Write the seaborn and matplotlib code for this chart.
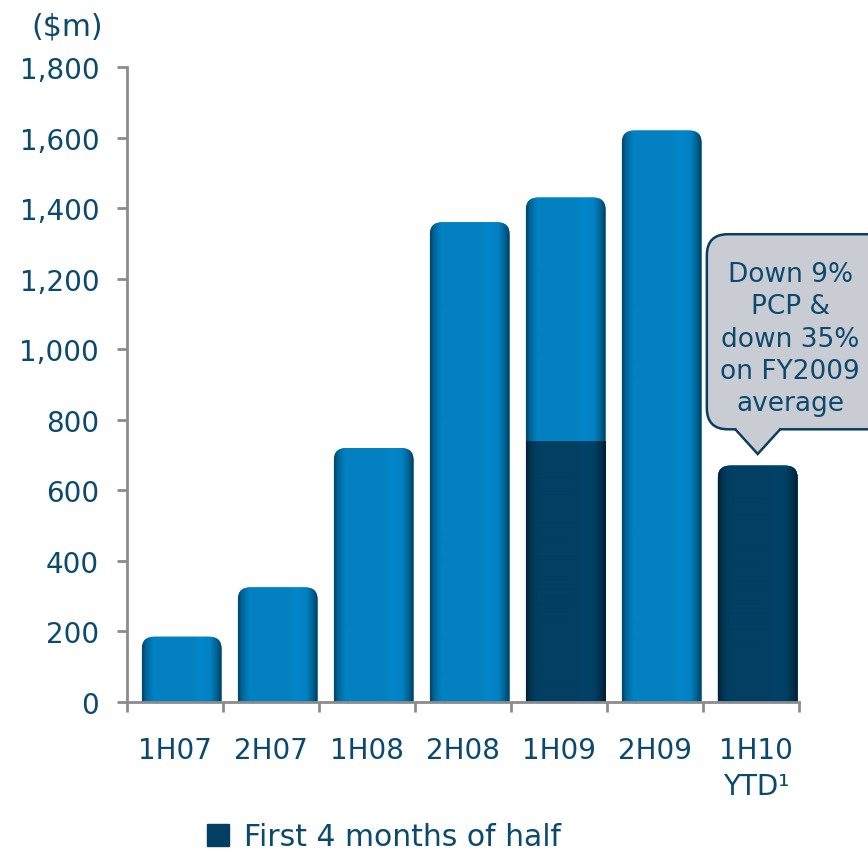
import matplotlib
matplotlib.use("Agg")
import matplotlib.pyplot as plt
import matplotlib.colors as mcolors
import seaborn as sns
import pandas as pd
import numpy as np
from matplotlib.patches import FancyBboxPatch, Polygon, Patch

categories = ["1H07", "2H07", "1H08", "2H08", "1H09", "2H09", "1H10"]
tick_labels = ["1H07", "2H07", "1H08", "2H08", "1H09", "2H09", "1H10\nYTD\u00b9"]
totals = [185, 325, 720, 1360, 1430, 1620, 670]
first4 = [0, 0, 0, 0, 740, 0, 670]
callout_lines = ["Down 9%", "PCP &", "down 35%", "on FY2009", "average"]
legend_label = "First 4 months of half"
y_ticks = [0, 200, 400, 600, 800, 1000, 1200, 1400, 1600, 1800]

LIGHT = "#0280c1"
DARK = "#023f63"
TEXT = "#0b4a6e"
AXIS = "#8c8c8c"

sns.set_theme(style="white")
plt.rcParams["font.family"] = ["DejaVu Sans"]

df = pd.DataFrame({"cat": categories, "total": totals, "first4": first4})

fig = plt.figure(figsize=(8.68, 8.54), dpi=100)
ax = fig.add_axes([127 / 868, 1 - 703 / 854, (799 - 127) / 868, (703 - 68) / 854])

sns.barplot(data=df, x="cat", y="total", color=LIGHT, width=0.83, ax=ax,
            saturation=1, order=categories)
n_light = len(ax.patches)
sns.barplot(data=df, x="cat", y="first4", color=DARK, width=0.83, ax=ax,
            saturation=1, order=categories)

SHIFT = 0.07
ax.set_ylim(0, 1800)
ax.set_xlim(-0.5 - SHIFT, len(categories) - 0.5 - SHIFT)

# horizontal shading profile of the bars
prof_x = [0.0, 0.05, 0.14, 0.62, 0.74, 0.86, 0.94, 1.0]
prof_f = [0.55, 0.8, 1.0, 1.0, 1.05, 1.0, 0.75, 0.5]
xs = np.linspace(0, 1, 120)
fac = np.interp(xs, prof_x, prof_f)


def shade(patch, base, zorder):
    rgb = np.array(mcolors.to_rgb(base))
    img = np.clip(fac[:, None] * rgb[None, :], 0, 1)[None, :, :]
    x0 = patch.get_x()
    w = patch.get_width()
    y0 = patch.get_y()
    h = patch.get_height()
    im = ax.imshow(img, extent=(x0, x0 + w, y0, y0 + h), aspect="auto",
                   interpolation="bilinear", zorder=zorder)
    im.set_clip_path(patch)


rx = 0.13
ry = 34.0
patches = list(ax.patches)
for i, p in enumerate(patches):
    x, w, h = p.get_x(), p.get_width(), p.get_height()
    fc = p.get_facecolor()
    p.remove()
    if h <= 0:
        continue
    idx = i % len(categories)
    base = LIGHT if i < n_light else DARK
    is_top = (i < n_light) or abs(h - totals[idx]) < 1e-6
    z = 2 if i < n_light else 3
    if is_top:
        fb = FancyBboxPatch((x, -ry * 2), w, h + ry * 2,
                            boxstyle=f"round,pad=0,rounding_size={rx}",
                            mutation_aspect=ry / rx, facecolor=fc,
                            edgecolor="none", zorder=z)
    else:
        fb = FancyBboxPatch((x, 0), w, h, boxstyle="square,pad=0",
                            facecolor=fc, edgecolor="none", zorder=z)
    ax.add_patch(fb)
    shade(fb, base, z + 0.1)

ax.set_xlim(-0.5 - SHIFT, len(categories) - 0.5 - SHIFT)
ax.set_ylim(0, 1800)

# Axes styling
for s in ["top", "right"]:
    ax.spines[s].set_visible(False)
for s in ["left", "bottom"]:
    ax.spines[s].set_color(AXIS)
    ax.spines[s].set_linewidth(2)
    ax.spines[s].set_zorder(5)

ax.set_yticks(y_ticks)
ax.set_yticklabels([f"{v:,}" for v in y_ticks])
ax.set_xticks(np.arange(-0.5, len(categories) + 0.5, 1.0) - SHIFT)
ax.set_xticklabels([])
ax.tick_params(axis="y", which="both", left=True, length=7, width=2,
               color=AXIS, labelsize=20, labelcolor=TEXT, pad=13)
ax.tick_params(axis="x", which="both", bottom=True, length=7, width=2,
               color=AXIS)
for i, lab in enumerate(tick_labels):
    ax.text(i - SHIFT + (0.05 if "\n" in lab else 0), -95, lab, ha="center",
            va="top", fontsize=20, color=TEXT, linespacing=1.4, clip_on=False)
ax.set_xlabel("")
ax.set_ylabel("")

# ($m) label
fig.text(67 / 868, 1 - 27 / 854, "($m)", ha="center", va="center",
         fontsize=21.5, color=TEXT)

# Callout
bx0, bx1 = 5.47, 7.6
by0, by1 = 773, 1326
box = FancyBboxPatch((bx0, by0), bx1 - bx0, by1 - by0,
                     boxstyle="round,pad=0,rounding_size=0.22",
                     mutation_aspect=60 / 0.22,
                     facecolor="#c9ccd2", edgecolor="#0b3d5c", linewidth=1.8,
                     clip_on=False, zorder=6)
ax.add_patch(box)
tri = Polygon([(5.76, by0 + 2), (6.0, 703), (6.24, by0 + 2)], closed=False,
              facecolor="#c9ccd2", edgecolor="#0b3d5c", linewidth=1.8,
              clip_on=False, zorder=7)
ax.add_patch(tri)
cover = Polygon([(5.775, by0 + 4), (6.0, 712), (6.225, by0 + 4)], closed=True,
                facecolor="#c9ccd2", edgecolor="none", clip_on=False, zorder=8)
ax.add_patch(cover)
ax.text(6.34, 1030, "\n".join(callout_lines), ha="center", va="center",
        fontsize=19, color=TEXT, linespacing=1.32, zorder=9, clip_on=False)

# Legend
handle = Patch(facecolor=DARK, edgecolor=DARK)
fig.legend([handle], [legend_label], loc="center",
           bbox_to_anchor=(384 / 868, 1 - 838 / 854), frameon=False,
           fontsize=21.5, handlelength=0.75, handleheight=0.75,
           handletextpad=0.5, labelcolor=TEXT)

fig.savefig("out.png", dpi=100)
